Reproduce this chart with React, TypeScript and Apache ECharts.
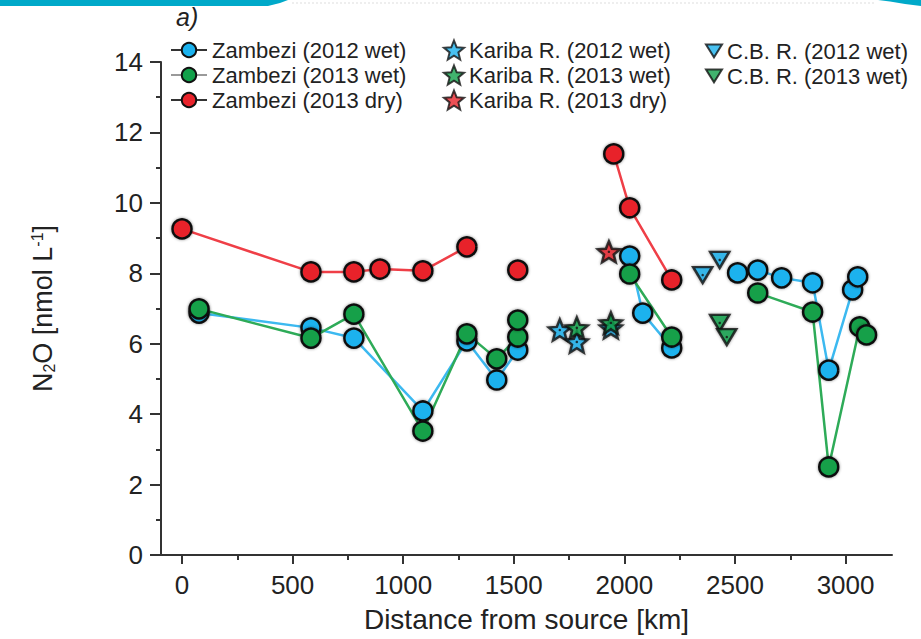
import React, { useEffect, useRef } from "react";
import * as echarts from "echarts";

// ---------- data ----------
const xTickValues = [0, 500, 1000, 1500, 2000, 2500, 3000];
const xMinorTickValues = [250, 750, 1250, 1750, 2250, 2750];

// Zambezi main stem (null = gap at a reservoir / break in the line)
const zambezi2012WetKm = [77, 583, 777, 1089, 1288, 1423, 1518, null, 2024, 2083, 2214, null, 2512, 2603, 2711, 2851, 2924, 3032, 3055];
const zambezi2012WetN2O = [6.87, 6.45, 6.16, 4.09, 6.08, 4.97, 5.82, null, 8.49, 6.87, 5.88, null, 8.01, 8.09, 7.87, 7.73, 5.25, 7.53, 7.9];

const zambezi2013WetKm = [77, 583, 777, 1089, 1288, 1423, 1518, 1518, null, 2024, 2214, null, 2603, 2851, 2924, 3064, 3095];
const zambezi2013WetN2O = [6.99, 6.16, 6.84, 3.52, 6.28, 5.57, 6.19, 6.67, null, 7.98, 6.19, null, 7.44, 6.9, 2.5, 6.48, 6.25];

const zambezi2013DryKm = [0, 583, 777, 895, 1089, 1288, null, 1518, null, 1952, 2024, 2214];
const zambezi2013DryN2O = [9.26, 8.04, 8.04, 8.12, 8.07, 8.75, null, 8.09, null, 11.39, 9.86, 7.81];

// Kariba reservoir
const kariba2012WetKm = [1708, 1785, 1939];
const kariba2012WetN2O = [6.39, 6.05, 6.45];
const kariba2013WetKm = [1785, 1939];
const kariba2013WetN2O = [6.45, 6.59];
const kariba2013DryKm = [1930];
const kariba2013DryN2O = [8.61];

// Cahora Bassa reservoir
const cb2012WetKm = [2354, 2431];
const cb2012WetN2O = [7.95, 8.38];
const cb2013WetKm = [2431, 2463];
const cb2013WetN2O = [6.59, 6.19];

const legendCol1 = ["Zambezi (2012 wet)", "Zambezi (2013 wet)", "Zambezi (2013 dry)"];
const legendCol2 = ["Kariba R. (2012 wet)", "Kariba R. (2013 wet)", "Kariba R. (2013 dry)"];
const legendCol3 = ["C.B. R. (2012 wet)", "C.B. R. (2013 wet)"];

// ---------- styling ----------
const BLUE = "#1bb2ee";
const GREEN = "#12a04a";
const RED = "#e8232b";
const BLUE_LINE = "#3cb9f0";
const GREEN_LINE = "#2eab58";
const RED_LINE = "#ef3f47";
const FONT = "'Liberation Sans', Arial, sans-serif";
const STAR =
  "path://M50,0L62.93,32.2L97.55,34.55L70.92,56.8L79.39,90.45L50,72L20.61,90.45L29.08,56.8L2.45,34.55L37.07,32.2Z";
const DOWN_TRIANGLE = "path://M0,0L20,0L10,16Z";

function pairs(xs: (number | null)[], ys: (number | null)[]) {
  return xs.map((x, i) => (x == null || ys[i] == null ? ["-", "-"] : [x, ys[i]]));
}
function dots(xs: (number | null)[], ys: (number | null)[]) {
  return xs
    .map((x, i) => [x, ys[i]])
    .filter((p) => p[0] != null && p[1] != null);
}

const markerStyle = (color: string) => ({
  color,
  borderColor: "#111",
  borderWidth: 2.5,
  shadowBlur: 3,
  shadowColor: "rgba(0,0,0,0.45)",
});

function lineSeries(name: string, xs: any[], ys: any[], fill: string, line: string) {
  return {
    name,
    type: "line",
    data: pairs(xs, ys),
    connectNulls: false,
    symbol: "circle",
    symbolSize: 19,
    showAllSymbol: true,
    itemStyle: markerStyle(fill),
    lineStyle: { color: line, width: 2.5 },
  };
}
function scatterSeries(name: string, xs: any[], ys: any[], fill: string, symbol: string, size: any) {
  return {
    name,
    type: "scatter",
    data: pairs(xs, ys),
    symbol,
    symbolSize: size,
    itemStyle: markerStyle(fill),
  };
}
function dotSeries(xs: any[], ys: any[]) {
  return {
    type: "scatter",
    silent: true,
    data: dots(xs, ys),
    symbol: "circle",
    symbolSize: 2.5,
    itemStyle: { color: "#111" },
  };
}

export default function App() {
  const ref = useRef<HTMLDivElement>(null);
  useEffect(() => {
    if (!ref.current) return;
    const chart = echarts.init(ref.current, null, { renderer: "svg" });
    const legendBase = {
      orient: "vertical",
      padding: 0,
      itemGap: 3,
      selectedMode: false,
    };
    const legendText = (size: number) => ({ fontFamily: FONT, fontSize: size, color: "#222" });
    chart.setOption({
      animation: false,
      backgroundColor: "#fff",
      textStyle: { fontFamily: FONT },
      grid: { left: 161, right: 29, top: 62, bottom: 84, containLabel: false, outerBoundsMode: "none" },
      graphic: [
        {
          type: "polygon",
          shape: { points: [[0, 0], [288, 0], [280, 3], [268, 6], [0, 6]] },
          style: { fill: "#00a9c9" },
        },
        {
          type: "polygon",
          shape: { points: [[878, 0], [921, 0], [921, 6], [905, 4], [890, 1.5]] },
          style: { fill: "#00a9c9" },
        },
        {
          type: "line",
          shape: { x1: 292, y1: 3, x2: 876, y2: 3 },
          style: { stroke: "#eeeeee", lineWidth: 2, lineDash: [2, 2] },
        },
        {
          type: "text",
          left: 176,
          top: 4,
          style: { text: "a)", font: `italic 25px ${FONT}`, fill: "#222" },
        },
      ],
      legend: [
        {
          ...legendBase,
          left: 170,
          top: 39,
          itemWidth: 36,
          itemHeight: 18,
          textStyle: legendText(22),
          data: legendCol1.map((n, i) => ({ name: n, lineStyle: { color: i === 1 ? "#9a9a9a" : "#333", width: 2 } })),
        },
        { ...legendBase, left: 443, top: 39, itemWidth: 20, itemHeight: 19, textStyle: legendText(22), data: legendCol2 },
        { ...legendBase, left: 705, top: 40, itemWidth: 16, itemHeight: 13, textStyle: legendText(22), data: legendCol3 },
      ],
      xAxis: [
        {
          type: "value",
          min: -95,
          max: 3210,
          name: "Distance from source [km]",
          nameLocation: "middle",
          nameGap: 50,
          nameTextStyle: { fontFamily: FONT, fontSize: 28, color: "#222" },
          axisLine: { show: true, onZero: false, lineStyle: { color: "#333", width: 2 } },
          axisTick: { show: true, customValues: xTickValues, length: 9, lineStyle: { color: "#333", width: 2 } },
          axisLabel: {
            customValues: xTickValues,
            formatter: (v: number) => String(v),
            fontFamily: FONT,
            fontSize: 26,
            color: "#222",
            margin: 17,
          },
          splitLine: { show: false },
        },
        {
          type: "value",
          min: -95,
          max: 3210,
          position: "bottom",
          axisLine: { show: false },
          axisTick: { show: true, customValues: xMinorTickValues, length: 5, lineStyle: { color: "#333", width: 2 } },
          axisLabel: { show: false },
          splitLine: { show: false },
        },
      ],
      yAxis: {
        type: "value",
        min: 0,
        max: 14,
        interval: 2,
        name: "{t|N}{s|2}{t|O [nmol L}{p|-1}{t|]}",
        nameLocation: "middle",
        nameRotate: 90,
        nameGap: 104,
        nameTextStyle: {
          rich: {
            t: { fontFamily: FONT, fontSize: 27, color: "#222" },
            s: { fontFamily: FONT, fontSize: 16, color: "#222", verticalAlign: "bottom", padding: [12, 0, 0, 0] },
            p: { fontFamily: FONT, fontSize: 16, color: "#222", verticalAlign: "top", padding: [0, 0, 10, 0] },
          },
        },
        axisLine: { show: true, onZero: false, lineStyle: { color: "#333", width: 2 } },
        axisTick: { show: true, length: 11, lineStyle: { color: "#333", width: 2 } },
        minorTick: { show: true, splitNumber: 2, length: 5, lineStyle: { color: "#333", width: 2 } },
        axisLabel: { fontFamily: FONT, fontSize: 26, color: "#222", margin: 18 },
        splitLine: { show: false },
        minorSplitLine: { show: false },
      },
      series: [
        lineSeries(legendCol1[0], zambezi2012WetKm, zambezi2012WetN2O, BLUE, BLUE_LINE),
        dotSeries(zambezi2012WetKm, zambezi2012WetN2O),
        lineSeries(legendCol1[1], zambezi2013WetKm, zambezi2013WetN2O, GREEN, GREEN_LINE),
        dotSeries(zambezi2013WetKm, zambezi2013WetN2O),
        lineSeries(legendCol1[2], zambezi2013DryKm, zambezi2013DryN2O, RED, RED_LINE),
        dotSeries(zambezi2013DryKm, zambezi2013DryN2O),
        scatterSeries(legendCol2[0], kariba2012WetKm, kariba2012WetN2O, BLUE, STAR, [22, 21]),
        dotSeries(kariba2012WetKm, kariba2012WetN2O),
        scatterSeries(legendCol2[1], kariba2013WetKm, kariba2013WetN2O, GREEN, STAR, [22, 21]),
        dotSeries(kariba2013WetKm, kariba2013WetN2O),
        scatterSeries(legendCol2[2], kariba2013DryKm, kariba2013DryN2O, RED, STAR, [22, 21]),
        dotSeries(kariba2013DryKm, kariba2013DryN2O),
        scatterSeries(legendCol3[0], cb2012WetKm, cb2012WetN2O, BLUE, DOWN_TRIANGLE, [19, 16]),
        dotSeries(cb2012WetKm, cb2012WetN2O),
        scatterSeries(legendCol3[1], cb2013WetKm, cb2013WetN2O, GREEN, DOWN_TRIANGLE, [19, 16]),
        dotSeries(cb2013WetKm, cb2013WetN2O),
      ],
    });
    return () => chart.dispose();
  }, []);
  return <div ref={ref} style={{ position: "absolute", left: 0, top: 0, width: 921, height: 639 }} />;
}
